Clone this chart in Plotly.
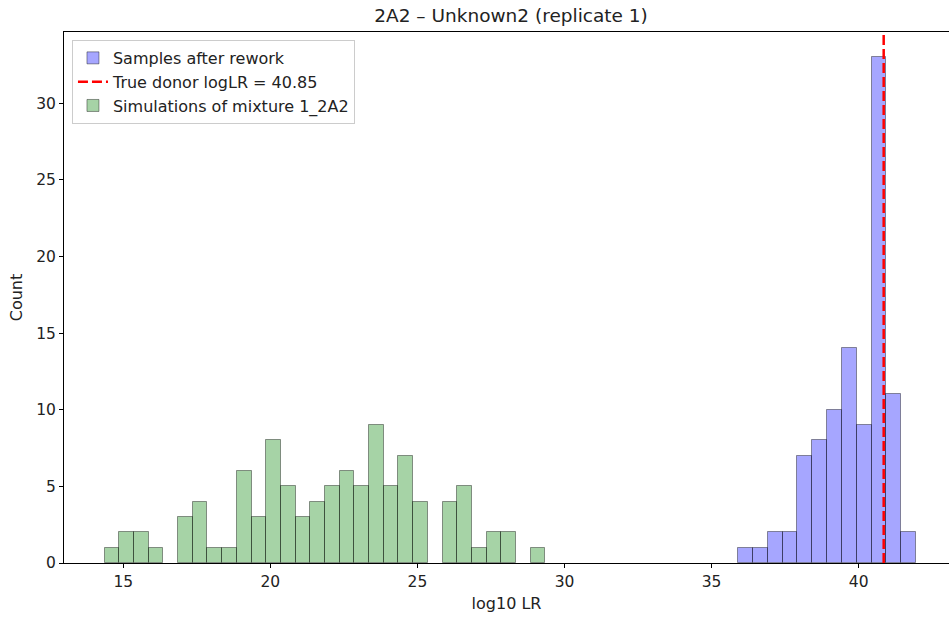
import numpy as np
import plotly.graph_objects as go

# ---- data ----
blue_bin_start = 35.90
blue_bin_width = 0.504
blue_counts = [1, 1, 2, 2, 7, 8, 10, 14, 9, 33, 11, 2]

green_bin_start = 14.365
green_bin_width = 0.4995
green_counts = [1, 2, 2, 1, 0, 3, 4, 1, 1, 6, 3, 8, 5, 3, 4, 5, 6, 5, 9, 5,
                7, 4, 0, 4, 5, 1, 2, 2, 0, 1]

true_donor_loglr = 40.85

title_text = "2A2 \u2013 Unknown2 (replicate 1)"
x_label = "log10 LR"
y_label = "Count"
blue_name = "Samples after rework"
line_name = "True donor logLR = 40.85"
green_name = "Simulations of mixture 1_2A2"

x_ticks = [15, 20, 25, 30, 35, 40]
y_ticks = [0, 5, 10, 15, 20, 25, 30]

# ---- derived ----
blue_x = blue_bin_start + blue_bin_width * (np.arange(len(blue_counts)) + 0.5)
green_x = green_bin_start + green_bin_width * (np.arange(len(green_counts)) + 0.5)
blue_y = [c if c > 0 else None for c in blue_counts]
green_y = [c if c > 0 else None for c in green_counts]

xmin = green_bin_start
xmax = blue_bin_start + blue_bin_width * len(blue_counts)
pad = 0.05 * (xmax - xmin)
ymax = max(max(blue_counts), max(green_counts)) * 1.05

font = "DejaVu Sans, Arial, sans-serif"

fig = go.Figure()
fig.add_trace(go.Bar(
    x=blue_x, y=blue_y, width=blue_bin_width, name=blue_name,
    marker=dict(color="rgba(0,0,255,0.35)", line=dict(color="rgba(0,0,0,0.4)", width=1)),
))
fig.add_trace(go.Scatter(
    x=[true_donor_loglr, true_donor_loglr], y=[0, ymax], mode="lines", name=line_name,
    line=dict(color="red", width=2.5, dash="10px,4px"),
))
fig.add_trace(go.Bar(
    x=green_x, y=green_y, width=green_bin_width, name=green_name,
    marker=dict(color="rgba(0,128,0,0.35)", line=dict(color="rgba(0,0,0,0.4)", width=1)),
))

axis_common = dict(
    showgrid=False, zeroline=False, showline=True, linecolor="black", linewidth=1,
    ticks="outside", ticklen=4, tickcolor="black",
    tickfont=dict(family=font, size=15.5, color="#222222"),
)

fig.update_layout(
    width=949, height=617,
    margin=dict(l=64, r=0, t=32, b=54),
    paper_bgcolor="white", plot_bgcolor="white",
    barmode="overlay", bargap=0,
    title=dict(text=title_text, x=0.5385, xanchor="center", y=0.975, yanchor="middle",
               font=dict(family=font, size=18.5, color="#222222")),
    xaxis=dict(range=[xmin - pad, 43.07], tickvals=x_ticks, mirror=True,
               title=dict(text=x_label, font=dict(family=font, size=16, color="#222222"), standoff=8),
               **axis_common),
    yaxis=dict(range=[0, ymax], tickvals=y_ticks, mirror=False,
               title=dict(text=y_label, font=dict(family=font, size=16, color="#222222"), standoff=9),
               **axis_common),
    legend=dict(x=0.009, y=0.985, xanchor="left", yanchor="top",
                bgcolor="rgba(255,255,255,0.8)", bordercolor="#cccccc", borderwidth=1,
                font=dict(family=font, size=16, color="#222222"),
                traceorder="normal", tracegroupgap=0),
    showlegend=True,
)

fig.write_html("out.html")
